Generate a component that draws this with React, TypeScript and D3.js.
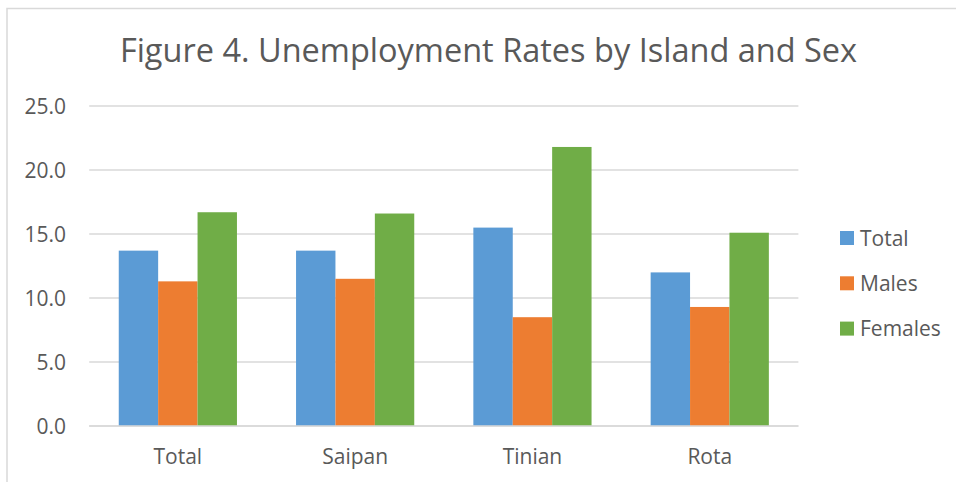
import React from "react";
import * as d3 from "d3";

const categories = ["Total", "Saipan", "Tinian", "Rota"];
const seriesNames = ["Total", "Males", "Females"];
const totalValues = [13.7, 13.7, 15.5, 12.0];
const maleValues = [11.3, 11.5, 8.5, 9.3];
const femaleValues = [16.7, 16.6, 21.8, 15.1];
const yTicks = [0, 5, 10, 15, 20, 25];
const colors = ["#5B9BD5", "#ED7D31", "#70AD47"];
const title = "Figure 4. Unemployment Rates by Island and Sex";

const W = 956;
const H = 482;
const FONT = "'Open Sans', sans-serif";
const TEXT = "#595959";

export default function App() {
  const series = [totalValues, maleValues, femaleValues];
  const x = d3
    .scaleBand<string>()
    .domain(categories)
    .range([89.2, 798.4])
    .paddingInner(1 / 3)
    .paddingOuter(1 / 6);
  const xs = d3
    .scaleBand<string>()
    .domain(seriesNames)
    .range([0, x.bandwidth()])
    .padding(0);
  const y = d3.scaleLinear().domain([0, 25]).range([426, 106]);

  return (
    <div style={{ position: "fixed", left: 0, top: 0 }}>
      <svg width={W} height={H} style={{ display: "block", background: "#fff" }}>
        <rect x={7} y={8.5} width={1200} height={1200} fill="none" stroke="#D9D9D9" strokeWidth={1.5} />
        <text x={488.5} y={62} textAnchor="middle" fontFamily={FONT} fontSize={32.5} fill={TEXT}>
          {title}
        </text>
        {yTicks.map((t) => (
          <g key={t}>
            <line x1={89.2} x2={798.4} y1={y(t)} y2={y(t)} stroke="#D9D9D9" strokeWidth={1.6} />
            <text x={66} y={y(t) + 7.5} textAnchor="end" fontFamily={FONT} fontSize={21} fill={TEXT}>
              {d3.format(".1f")(t)}
            </text>
          </g>
        ))}
        {categories.map((c, i) => (
          <g key={c} transform={`translate(${x(c)},0)`}>
            {series.map((vals, s) => (
              <rect
                key={s}
                x={xs(seriesNames[s])}
                y={y(vals[i])}
                width={xs.bandwidth()}
                height={y(0) - y(vals[i])}
                fill={colors[s]}
              />
            ))}
          </g>
        ))}
        <line x1={89.2} x2={798.4} y1={y(0)} y2={y(0)} stroke="#D9D9D9" strokeWidth={1.6} />
        {categories.map((c) => (
          <text
            key={c}
            x={(x(c) as number) + x.bandwidth() / 2}
            y={463.5}
            textAnchor="middle"
            fontFamily={FONT}
            fontSize={21}
            fill={TEXT}
          >
            {c}
          </text>
        ))}
        {seriesNames.map((n, i) => (
          <g key={n} transform={`translate(840,${231 + i * 45.3})`}>
            <rect x={0} y={0} width={14} height={14} fill={colors[i]} />
            <text x={20} y={14.5} fontFamily={FONT} fontSize={21} fill={TEXT}>
              {n}
            </text>
          </g>
        ))}
      </svg>
    </div>
  );
}
